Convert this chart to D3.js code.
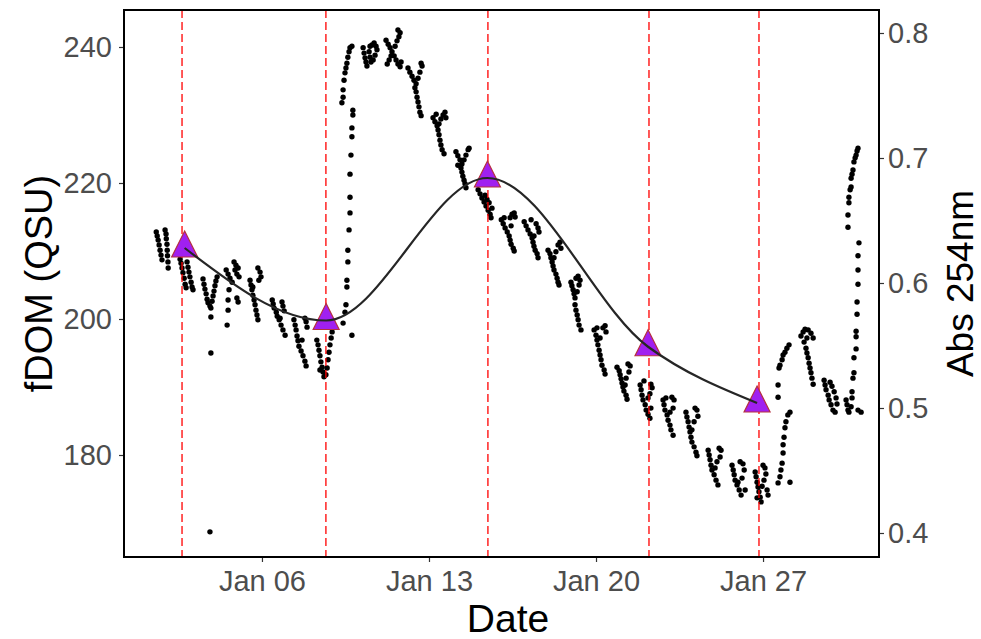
<!DOCTYPE html>
<html><head><meta charset="utf-8">
<script src="https://cdn.jsdelivr.net/npm/d3@7"></script>
<style>body{margin:0;background:#fff}svg{display:block}</style>
</head><body><svg id="c" width="981" height="639"></svg>
<script>
// fDOM sensor readings: [day of January (fractional), fDOM QSU]
const fdomPoints = [
[1.57,212.8],[1.61,212.2],[1.65,211.6],[1.69,210.9],[1.73,210.1],[1.77,209.4],[1.81,208.7],[1.94,213.1],[1.98,212.5],[1.99,211.8],[2.02,211.0],[2.03,210.1],[2.04,209.3],[2.06,208.4],[2.07,207.5],
[2.57,208.8],[2.61,208.2],[2.65,207.5],[2.69,206.8],[2.74,206.0],[2.78,205.1],[2.86,208.4],[2.90,207.6],[2.94,206.9],[2.98,206.2],[3.03,205.4],[3.07,204.7],[3.11,204.3],[2.82,204.6],
[3.53,205.9],[3.57,205.1],[3.61,204.4],[3.66,203.7],[3.70,202.9],[3.74,202.4],[3.82,201.9],[3.91,202.6],[3.95,203.4],[3.99,204.1],[4.03,204.9],[4.07,205.6],[4.12,206.2],[3.86,201.6],[3.86,200.3],[3.86,195.0],[3.82,168.7],
[4.83,208.4],[4.91,207.9],[5.00,207.5],[4.87,207.2],[4.95,206.6],[5.04,206.2],[4.50,207.2],[4.58,206.6],[4.66,206.0],[4.75,205.4],[4.62,204.3],[4.58,202.8],[4.58,201.3],[4.54,199.1],[4.95,203.1],[5.00,202.5],
[5.83,207.5],[5.92,206.9],[5.96,206.2],[5.87,205.7],[5.50,205.7],[5.54,205.0],[5.58,204.3],[5.62,203.5],[5.67,202.8],[5.71,202.1],[5.75,201.3],[5.79,200.6],[5.83,199.9],[5.62,204.7],
[6.43,202.8],[6.47,202.2],[6.51,201.6],[6.60,201.0],[6.64,200.4],[6.72,199.9],[6.80,199.1],[6.88,198.4],[6.97,197.6],[6.84,202.5],[6.88,201.9],[6.93,201.2],[6.76,200.1],
[7.34,199.9],[7.39,199.1],[7.43,198.4],[7.47,197.5],[7.51,196.8],[7.55,196.0],[7.64,195.3],[7.72,194.6],[7.80,193.8],[7.85,193.1],[7.80,200.1],[7.85,199.6],[7.89,198.8],[7.68,196.9],
[8.30,196.9],[8.35,196.2],[8.39,195.4],[8.43,194.6],[8.47,193.7],[8.52,192.9],[8.56,192.2],[8.60,191.5],[8.68,191.8],[8.73,192.8],[8.77,194.0],[8.81,195.1],[8.85,196.2],[8.90,197.2],[8.94,198.1],[8.43,192.5],
[9.77,197.6],[9.40,199.4],[9.48,201.0],[9.52,202.1],[9.56,204.7],[9.56,205.7],[9.60,208.4],[9.60,210.1],[9.65,213.1],[9.69,215.6],[9.69,217.9],[9.69,221.3],[9.73,224.1],[9.77,226.8],[9.77,228.1],[9.81,230.0],[9.81,230.7],[9.35,231.8],[9.40,232.6],[9.40,233.7],[9.44,235.1],[9.48,236.2],[9.52,236.9],[9.56,237.6],[9.60,238.5],[9.65,239.3],[9.69,239.9],[9.77,240.1],
[10.24,239.9],[10.28,239.1],[10.32,238.4],[10.36,237.8],[10.40,237.2],[10.49,239.3],[10.53,238.5],[10.57,237.8],[10.61,240.3],[10.70,240.6],[10.78,240.1],[10.82,239.6],[10.74,238.8],[10.66,238.1],[10.53,240.1],
[11.20,241.0],[11.29,240.4],[11.37,239.9],[11.45,239.3],[11.54,238.7],[11.62,238.1],[11.70,237.5],[11.79,237.1],[11.79,242.1],[11.74,241.5],[11.66,240.9],[11.58,240.1],[11.41,238.7],[11.33,238.1],[11.25,237.5],[11.70,242.5],[11.83,237.8],
[12.12,236.9],[12.20,236.3],[12.29,235.7],[12.37,235.1],[12.46,234.6],[12.54,235.4],[12.62,236.3],[12.71,237.2],[12.67,237.6],[12.41,234.0],[12.46,233.4],[12.50,232.6],[12.54,231.9],[12.58,231.2],[12.62,230.4],[12.67,229.9],
[13.17,229.6],[13.25,229.0],[13.34,228.4],[13.42,228.7],[13.50,229.4],[13.59,230.0],[13.67,230.4],[13.71,229.6],[13.38,227.8],[13.42,227.1],[13.46,226.3],[13.50,225.6],[13.55,224.9],[13.63,224.3],[13.30,230.1],
[14.13,224.6],[14.21,224.0],[14.30,223.4],[14.38,222.8],[14.47,223.4],[14.55,224.1],[14.64,224.9],[14.68,225.1],[14.34,222.2],[14.38,221.6],[14.42,221.0],[14.47,220.4],[14.51,219.9],[14.55,219.3],[14.21,222.6],
[15.06,219.0],[15.14,218.4],[15.22,217.8],[15.31,217.2],[15.39,216.6],[15.48,216.0],[15.56,215.4],[15.60,214.9],[15.35,218.2],[15.43,217.6],[15.52,217.1],[15.64,216.3],
[16.03,214.6],[16.11,214.0],[16.19,213.4],[16.28,212.8],[16.36,212.2],[16.40,211.6],[16.44,211.0],[16.53,210.4],[16.57,210.0],[16.40,214.9],[16.48,215.4],[16.57,215.6],[16.61,215.0],[16.44,213.7],[16.15,214.9],
[16.99,214.3],[17.07,213.7],[17.15,213.1],[17.24,212.5],[17.32,211.9],[17.36,211.3],[17.40,210.7],[17.45,210.1],[17.53,209.6],[17.57,209.0],[17.49,214.0],[17.57,213.4],[17.61,212.8],[17.28,214.6],[17.40,212.2],
[17.99,210.1],[18.07,209.6],[18.11,209.0],[18.16,208.4],[18.20,207.8],[18.24,207.2],[18.32,206.6],[18.37,206.0],[18.41,205.4],[18.45,205.0],[18.41,210.9],[18.49,211.3],[18.53,210.4],[18.32,209.9],[18.24,209.0],
[18.95,205.4],[18.99,204.9],[19.04,204.3],[19.08,203.7],[19.12,203.1],[19.16,206.0],[19.25,206.3],[19.33,205.7],[19.29,205.0],[19.21,204.0],[19.12,202.1],[19.16,201.3],[19.21,200.6],[19.25,199.9],[19.29,199.1],[19.37,198.4],
[19.92,198.4],[20.00,197.6],[20.04,196.9],[20.08,196.2],[20.13,195.4],[20.17,194.7],[20.21,194.0],[20.25,193.2],[20.34,192.5],[20.38,191.9],[20.29,198.7],[20.38,199.0],[20.42,198.1],[20.17,197.2],[20.04,198.7],
[20.88,192.9],[20.97,192.4],[21.01,191.8],[21.05,191.2],[21.09,190.6],[21.13,190.0],[21.17,189.4],[21.26,188.8],[21.30,188.2],[21.34,193.4],[21.43,193.1],[21.38,192.2],[21.26,191.3],[21.22,190.3],
[21.85,190.3],[21.89,189.6],[21.93,188.8],[21.97,188.1],[22.06,187.4],[22.10,186.6],[22.18,186.0],[22.26,185.4],[22.30,190.4],[22.35,189.9],[22.26,189.0],[22.18,188.4],[22.30,186.9],[22.01,190.9],
[22.81,188.1],[22.85,187.4],[22.89,186.6],[22.98,185.9],[23.02,185.1],[23.10,184.4],[23.14,183.7],[23.23,182.9],[23.18,188.5],[23.27,188.1],[23.23,186.9],[23.10,186.3],[22.93,188.4],
[23.77,186.3],[23.81,185.6],[23.86,184.9],[23.90,184.1],[23.94,183.4],[23.98,182.6],[24.02,181.9],[24.11,181.2],[24.19,180.4],[24.23,179.9],[24.15,186.9],[24.23,186.6],[24.27,185.7],[24.11,184.9],[24.02,183.7],
[24.70,180.7],[24.74,180.0],[24.78,179.3],[24.82,178.5],[24.86,177.8],[24.95,177.1],[25.03,176.3],[25.11,175.6],[25.16,181.0],[25.24,180.7],[25.20,179.7],[25.07,179.0],[24.99,178.1],
[25.70,178.5],[25.75,177.8],[25.79,177.1],[25.83,176.3],[25.91,175.6],[26.00,174.85],[26.08,174.1],[26.04,179.0],[26.16,178.7],[26.21,177.8],[26.12,176.6],[25.95,176.0],[26.25,174.85],
[26.67,177.5],[26.71,176.8],[26.75,176.0],[26.79,175.3],[26.83,174.6],[26.88,173.8],[26.92,173.1],[27.00,178.5],[27.08,178.1],[27.12,177.2],[27.04,176.3],[26.96,175.4],[27.17,174.85],[27.21,174.1],[26.75,173.7],
[27.63,175.9],[27.71,176.8],[27.75,177.8],[27.80,178.8],[27.84,180.3],[27.84,181.5],[27.88,182.6],[27.92,184.0],[27.96,184.9],[28.04,185.9],[28.13,186.3],[28.13,176.0],[27.63,190.3],[27.63,188.5],[27.67,192.8],[27.71,193.2],[27.80,194.0],[27.84,194.7],[27.92,195.1],[28.00,195.7],[28.09,196.2],
[28.59,197.5],[28.68,198.1],[28.76,198.5],[28.89,198.4],[29.01,197.9],[29.10,197.2],[28.84,197.2],[28.72,196.6],[28.80,195.7],[28.84,195.0],[28.89,194.3],[28.93,193.5],[28.97,192.8],[29.01,192.1],[29.05,191.3],[29.10,190.4],
[29.56,191.0],[29.60,190.3],[29.64,189.6],[29.73,188.8],[29.77,188.1],[29.85,187.4],[29.93,186.6],[30.02,186.3],[29.81,190.7],[29.89,190.1],[29.98,189.3],[30.06,188.4],[30.10,187.5],
[30.48,188.1],[30.52,187.4],[30.56,186.6],[30.60,186.3],[30.69,187.1],[30.98,186.6],[31.11,186.3],
[31.02,211.2],[30.98,209.3],[30.98,207.2],[30.98,205.1],[30.94,202.5],[30.94,200.7],[30.90,198.2],[30.90,197.4],[30.90,195.6],[30.81,194.3],[30.81,192.1],[30.77,191.3],[30.73,189.3],[30.73,188.4],
[30.56,213.5],[30.56,215.3],[30.60,217.1],[30.60,217.9],[30.69,219.4],[30.69,220.7],[30.77,221.9],[30.81,223.1],[30.90,224.1],[30.98,225.1],[30.86,223.7],[30.94,224.7],[30.73,221.3],[30.65,219.0]
];
// Lab absorbance samples
const absDays = [2.76, 8.69, 15.45, 22.18, 26.75];
const absValues = [0.628, 0.570, 0.684, 0.549, 0.504];
// Sampling events (dashed lines)
const eventDays = [2.65, 8.68, 15.47, 22.22, 26.83];
const xTickDays = [6, 13, 20, 27];
const leftTicks = [180, 200, 220, 240];
const rightTicks = [0.4, 0.5, 0.6, 0.7, 0.8];

const FONT = "'Liberation Sans', Arial, sans-serif";
const base = Date.UTC(2020, 0, 1);
const toDate = d => new Date(base + (d - 1) * 864e5);
const L = 124, R = 879, T = 10, B = 557;

const x = d3.scaleUtc().domain([toDate(0.218), toDate(31.86)]).range([L, R]);
const yL = d3.scaleLinear().domain([165.0, 245.44]).range([B, T]);
const yR = d3.scaleLinear().domain([0.3808, 0.8184]).range([B, T]);

const svg = d3.select("#c");
svg.append("rect").attr("width", 981).attr("height", 639).attr("fill", "#fff");

// dots
svg.append("g").selectAll("circle").data(fdomPoints).join("circle")
  .attr("cx", d => x(toDate(d[0]))).attr("cy", d => yL(d[1])).attr("r", 2.7).attr("fill", "#000");

// event lines
svg.append("g").selectAll("line").data(eventDays).join("line")
  .attr("x1", d => x(toDate(d))).attr("x2", d => x(toDate(d)))
  .attr("y1", T).attr("y2", B)
  .attr("stroke", "#ff0000").attr("stroke-width", 1.3).attr("stroke-dasharray", "8,4");

// triangles
const absPts = absDays.map((d, i) => [d, absValues[i]]);
svg.append("g").selectAll("path").data(absPts).join("path")
  .attr("transform", d => `translate(${x(toDate(d[0]))},${yR(d[1])})`)
  .attr("d", "M0,-17L13,9L-13,9Z")
  .attr("fill", "#a020f0").attr("stroke", "#b5303f").attr("stroke-width", 1.2);

// smooth line
svg.append("path").datum(absPts)
  .attr("d", d3.line().x(d => x(toDate(d[0]))).y(d => yR(d[1])).curve(d3.curveMonotoneX))
  .attr("fill", "none").attr("stroke", "#262626").attr("stroke-width", 2.2);

// axes
function styleAxis(g) {
  g.select(".domain").remove();
  g.selectAll(".tick line").attr("stroke", "#333").attr("stroke-width", 1.2);
  g.selectAll(".tick text").attr("fill", "#4d4d4d").style("font-family", FONT).style("font-size", "29px");
}
svg.append("g").attr("transform", `translate(0,${B})`)
  .call(d3.axisBottom(x).tickValues(xTickDays.map(toDate)).tickFormat(d3.utcFormat("%b %d")).tickSize(5).tickPadding(8))
  .call(styleAxis);
svg.append("g").attr("transform", `translate(${L},0)`)
  .call(d3.axisLeft(yL).tickValues(leftTicks).tickSize(5).tickPadding(7))
  .call(styleAxis);
svg.append("g").attr("transform", `translate(${R},0)`)
  .call(d3.axisRight(yR).tickValues(rightTicks).tickFormat(d3.format(".1f")).tickSize(5).tickPadding(4))
  .call(styleAxis);

// panel border
svg.append("rect").attr("x", L).attr("y", T).attr("width", R - L).attr("height", B - T)
  .attr("fill", "none").attr("stroke", "#000").attr("stroke-width", 2);

// titles
svg.append("text").attr("x", 508).attr("y", 632).attr("text-anchor", "middle")
  .style("font-family", FONT).style("font-size", "39px").attr("fill", "#000").text("Date");
svg.append("text").attr("transform", `translate(52,${(T + B) / 2}) rotate(-90)`).attr("text-anchor", "middle")
  .style("font-family", FONT).style("font-size", "38px").attr("fill", "#000").text("fDOM (QSU)");
svg.append("text").attr("transform", `translate(973,${(T + B) / 2}) rotate(-90)`).attr("text-anchor", "middle")
  .style("font-family", FONT).style("font-size", "37px").attr("fill", "#000").text("Abs 254nm");
</script></body></html>
